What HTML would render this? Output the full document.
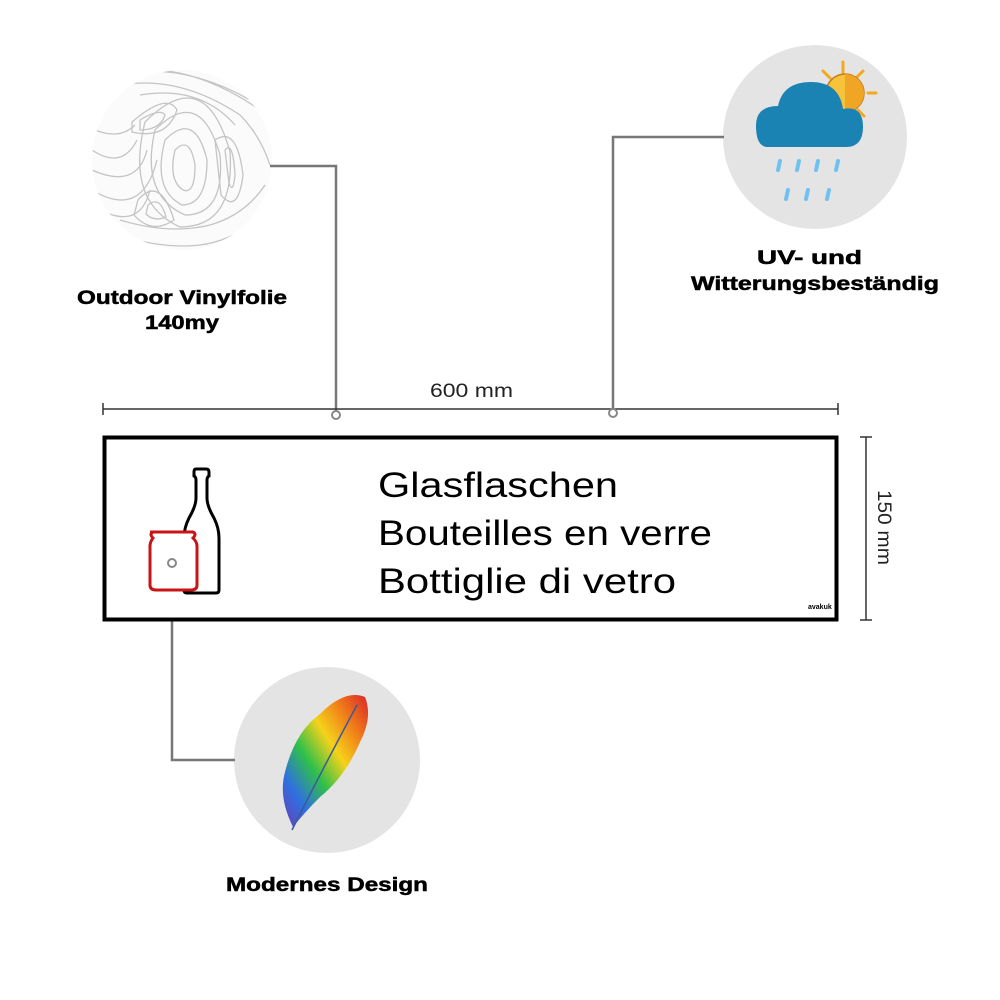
<!DOCTYPE html>
<html><head><meta charset="utf-8"><style>
html,body{margin:0;padding:0;background:#fff;}
svg{display:block;}
text{font-family:"Liberation Sans",sans-serif;}
</style></head><body>
<svg width="1000" height="1000" viewBox="0 0 1000 1000" xmlns="http://www.w3.org/2000/svg">
<defs>
<clipPath id="c1"><circle cx="182" cy="160" r="90"/></clipPath>
<linearGradient id="fg" x1="0" y1="1" x2="1" y2="0">
<stop offset="0" stop-color="#6a3fb5"/><stop offset="0.2" stop-color="#2f6fe0"/>
<stop offset="0.4" stop-color="#2fc04a"/><stop offset="0.6" stop-color="#f5d21a"/>
<stop offset="0.8" stop-color="#f07a1a"/><stop offset="1" stop-color="#d8262a"/></linearGradient>
</defs>
<circle cx="182" cy="160" r="90" fill="#fbfbfb"/>
<g clip-path="url(#c1)" fill="none" stroke="#c4c4c4" stroke-width="1.3">
<path d="M140 120 q20 -12 25 -5 q-5 15 -25 15 z"/>
<path d="M132 122 q35 -30 45 -12 q-10 30 -45 22 z"/>
<path d="M175 150 q15 -15 20 15 q0 30 -12 25 q-15 -10 -8 -40z"/>
<path d="M165 140 q30 -30 42 20 q0 45 -25 45 q-30 -15 -17 -65z"/>
<path d="M155 130 q45 -45 65 25 q5 60 -35 60 q-45 -20 -30 -85z"/>
<path d="M145 122 q60 -60 85 30 q5 75 -50 75 q-55 -25 -35 -105z"/>
<path d="M225 150 q8 -10 10 25 q-2 20 -6 8z"/>
<path d="M215 140 q22 -15 28 35 q-5 40 -22 20z"/>
<path d="M148 205 q12 -10 18 12 q-12 5 -20 -3z"/>
<path d="M138 200 q22 -25 36 20 q-22 15 -40 -5z"/>
<path d="M92 150 q30 20 45 -10 M92 170 q45 20 55 -20 M92 190 q50 30 65 -30 M95 130 q25 10 40 -5 M100 210 q40 20 50 -20"/>
<path d="M120 85 q60 -10 120 30 q20 20 30 50 M110 75 q70 -15 140 25 M160 70 q50 5 100 40 M140 95 q60 -10 95 30"/>
<path d="M100 230 q60 20 100 15 q40 -5 70 -40 M110 245 q70 15 140 -5 M120 220 q50 15 90 5 q35 -10 55 -40"/>
</g>
<circle cx="815" cy="137" r="92" fill="#e4e4e4"/>
<g stroke="#f2a91c" stroke-width="3" stroke-linecap="round">
<line x1="843" y1="62" x2="843" y2="72"/><line x1="823" y1="71" x2="830" y2="78"/>
<line x1="863" y1="71" x2="856" y2="78"/><line x1="868" y1="93" x2="876" y2="93"/>
<line x1="858" y1="110" x2="864" y2="116"/></g>
<circle cx="845" cy="93" r="19" fill="#f7c33a" stroke="#c9781c" stroke-width="1.5"/>
<path d="M845 74 a19 19 0 0 1 0 38z" fill="#f0a524"/>
<path d="M768 147 q-12 0 -12 -21 q0 -20 22 -20 q5 -24 33 -24 q28 0 32 27 q20 -4 20 18 q0 20 -17 20 z" fill="#1b82b4"/>
<g stroke="#6fc2ef" stroke-width="4" stroke-linecap="round">
<line x1="780" y1="161" x2="778" y2="170"/><line x1="799" y1="161" x2="797" y2="170"/>
<line x1="818" y1="161" x2="816" y2="170"/><line x1="838" y1="161" x2="836" y2="170"/>
<line x1="788" y1="190" x2="786" y2="199"/><line x1="808" y1="190" x2="806" y2="199"/>
<line x1="829" y1="190" x2="827" y2="199"/></g>
<circle cx="327" cy="760" r="93" fill="#e4e4e4"/>
<path d="M293 827 q-15 -30 -8 -55 q10 -40 35 -58 q25 -25 45 -17 q8 20 -5 45 q-15 35 -40 55 q-15 15 -27 30z" fill="url(#fg)"/>
<path d="M292 830 q30 -60 65 -125" stroke="#3a5a9a" stroke-width="1.5" fill="none"/>
<g stroke="#777" stroke-width="2.5" fill="none">
<polyline points="270,166 336,166 336,411"/>
<polyline points="724,137 613,137 613,409"/>
<polyline points="172,567 172,760 235,760"/>
</g>
<g stroke="#333" stroke-width="1.5">
<line x1="103" y1="409" x2="838" y2="409"/><line x1="103" y1="403" x2="103" y2="415"/><line x1="838" y1="403" x2="838" y2="415"/>
<line x1="866" y1="437" x2="866" y2="620"/><line x1="860" y1="437" x2="872" y2="437"/><line x1="860" y1="620" x2="872" y2="620"/>
</g>
<g fill="#fff" stroke="#888" stroke-width="2">
<circle cx="336" cy="415" r="4"/><circle cx="613" cy="413" r="4"/></g>
<text x="430" y="397" font-size="19" textLength="83" lengthAdjust="spacingAndGlyphs" fill="#222">600 mm</text>
<text transform="translate(878,490) rotate(90)" font-size="19" textLength="75" lengthAdjust="spacingAndGlyphs" fill="#222">150 mm</text>
<rect x="104.5" y="437.5" width="732" height="182" fill="#fff" stroke="#000" stroke-width="4"/>
<path d="M196 469 h10 q3 0 3 3 v4 q-2 1 -2 4 v18 q0 8 7 20 q5 10 5 20 v52 q0 3 -3 3 h-29 q-3 0 -3 -3 v-52 q0 -10 5 -20 q7 -12 7 -20 v-18 q0 -3 -2 -4 v-4 q0 -3 2 -3z" fill="none" stroke="#000" stroke-width="3"/>
<path d="M150 532 h43 q4 2 0 6 q4 4 4 8 v39 q0 5 -6 5 h-35 q-6 0 -6 -5 v-39 q0 -4 3 -8 q-4 -4 0 -6z" fill="#fff" stroke="#c81414" stroke-width="3"/>
<circle cx="172" cy="563" r="4" fill="#fff" stroke="#888" stroke-width="2"/>
<g font-size="35" fill="#000" lengthAdjust="spacingAndGlyphs">
<text x="378" y="497" textLength="240" lengthAdjust="spacingAndGlyphs">Glasflaschen</text>
<text x="378" y="545" textLength="334" lengthAdjust="spacingAndGlyphs">Bouteilles en verre</text>
<text x="378" y="593" textLength="298" lengthAdjust="spacingAndGlyphs">Bottiglie di vetro</text></g>
<text x="808" y="609" font-size="7" font-weight="bold" fill="#000">avakuk</text>
<g font-size="19" font-weight="bold" fill="#000" stroke="#000" stroke-width="0.5">
<text x="77" y="304" textLength="210" lengthAdjust="spacingAndGlyphs">Outdoor Vinylfolie</text>
<text x="145" y="329" textLength="74" lengthAdjust="spacingAndGlyphs">140my</text>
<text x="757" y="264" textLength="105" lengthAdjust="spacingAndGlyphs">UV- und</text>
<text x="691" y="290" textLength="248" lengthAdjust="spacingAndGlyphs">Witterungsbeständig</text>
<text x="226" y="891" textLength="202" lengthAdjust="spacingAndGlyphs">Modernes Design</text></g>
</svg>
</body></html>
